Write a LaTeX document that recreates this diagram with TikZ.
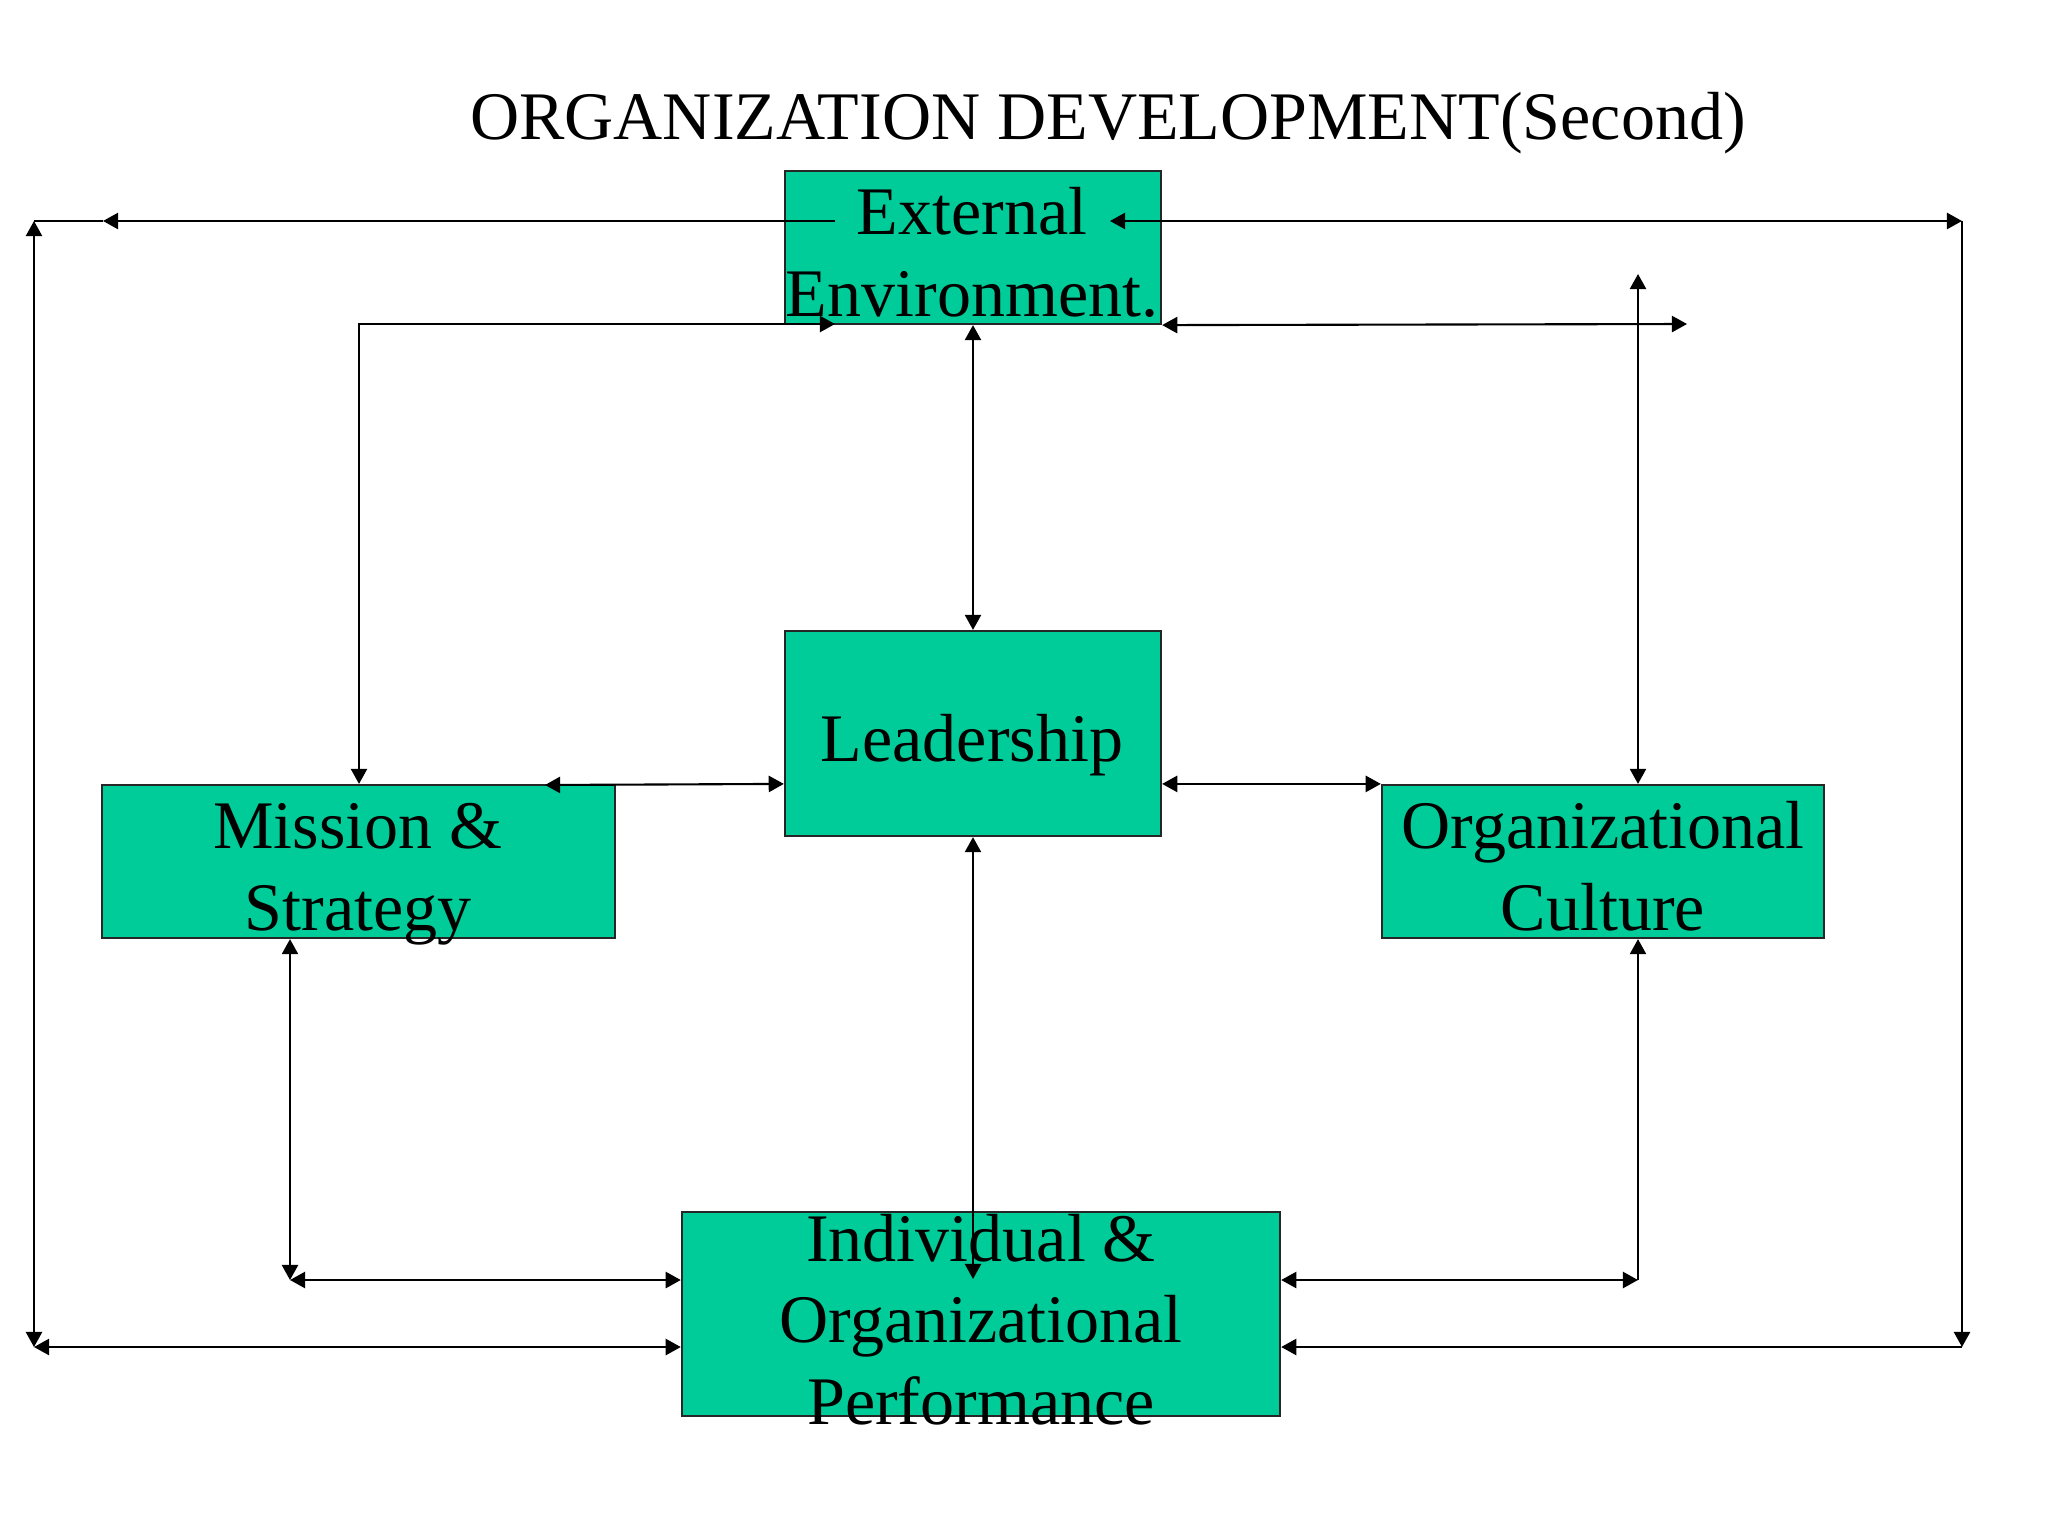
\documentclass[tikz,border=0pt]{standalone}
\usepackage{fontspec}
\setmainfont{Liberation Serif}
\usetikzlibrary{arrows.meta}
\definecolor{boxgreen}{RGB}{0,204,153}
\tikzset{
  >={Triangle[length=4.3pt,width=4.6pt]},
  conn/.style={line width=0.6pt, black},
  greenbox/.style={draw=black!85, line width=0.6pt, fill=boxgreen, inner sep=0pt, rectangle},
  boxtext/.style={font=\fontsize{19.35pt}{23.05pt}\selectfont, align=center, anchor=base, inner sep=0pt},
  titletext/.style={font=\fontsize{19.35pt}{23.05pt}\selectfont, anchor=base, inner sep=0pt}
}
\begin{document}
\begin{tikzpicture}[x=0.01cm, y=-0.01cm]
\useasboundingbox (0,0) rectangle (2048,1536);
\fill[white] (0,0) rectangle (2048,1536);

% title
\node[titletext] (title) at (1108,139) {ORGANIZATION DEVELOPMENT(Second)};

% boxes
\node[greenbox, minimum width=3.76cm, minimum height=1.53cm] (ext) at (973,247.5) {};
\node[greenbox, minimum width=3.76cm, minimum height=2.05cm] (lead) at (973,733.5) {};
\node[greenbox, minimum width=5.13cm, minimum height=1.53cm] (mis) at (358.5,861.5) {};
\node[greenbox, minimum width=4.42cm, minimum height=1.53cm] (cul) at (1603,861.5) {};
\node[greenbox, minimum width=5.98cm, minimum height=2.04cm] (perf) at (981,1314) {};

% helper coordinates
\coordinate (c1) at (835,221);
\coordinate (a1) at (103,221);
\coordinate (TL) at (34,221);
\coordinate (BL) at (34,1347);
\coordinate (m1) at (835,324);
\coordinate (MT) at (359,324);
\coordinate (ml) at (545,785);
\coordinate (pl) at (973,1279);
\coordinate (MB) at (290,1280);
\coordinate (CB) at (1638,1280);
\coordinate (CT) at (1638,274);
\coordinate (ER) at (1687,324);
\coordinate (c2) at (1110,221);
\coordinate (TR) at (1962,221);
\coordinate (BR) at (1962,1347);

% connectors
\draw[conn,->] (c1) -- (a1);
\draw[conn] (a1) -- (TL);
\draw[conn,<->] (TL) -- (BL);
\draw[conn,<->] (BL) -- (perf.west |- BL);

\draw[conn,<->] (m1) -- (MT) -- (MT |- mis.north);
\draw[conn,<->] (ml) -- (lead.west |- mis.north);
\draw[conn,<->] (lead.east |- cul.north) -- (cul.north west);
\draw[conn,<->] (ext.south) -- (lead.north);
\draw[conn,<->] (lead.south) -- (pl);

\draw[conn,<->] (MB |- mis.south) -- (MB);
\draw[conn,<->] (MB) -- (perf.west |- MB);

\draw[conn,->] (CB) -- (CB |- cul.south);
\draw[conn,<->] (perf.east |- CB) -- (CB);

\draw[conn,<->] (CT) -- (CT |- cul.north);
\draw[conn,<->] (ext.south east) -- (ER);

\draw[conn,<->] (c2) -- (TR);
\draw[conn,->] (TR) -- (BR);
\draw[conn,->] (BR) -- (perf.east |- BR);

% texts (anchor base = baseline of the last line)
\node[boxtext] (extT) at (972,316) {External\\Environment.};
\node[boxtext] (leadT) at (972,761) {Leadership};
\node[boxtext] (misT) at (358,930) {Mission \&\\Strategy};
\node[boxtext] (culT) at (1603,930) {Organizational\\Culture};
\node[boxtext] (perfT) at (981,1424) {Individual \&\\Organizational\\Performance};
\end{tikzpicture}
\end{document}
